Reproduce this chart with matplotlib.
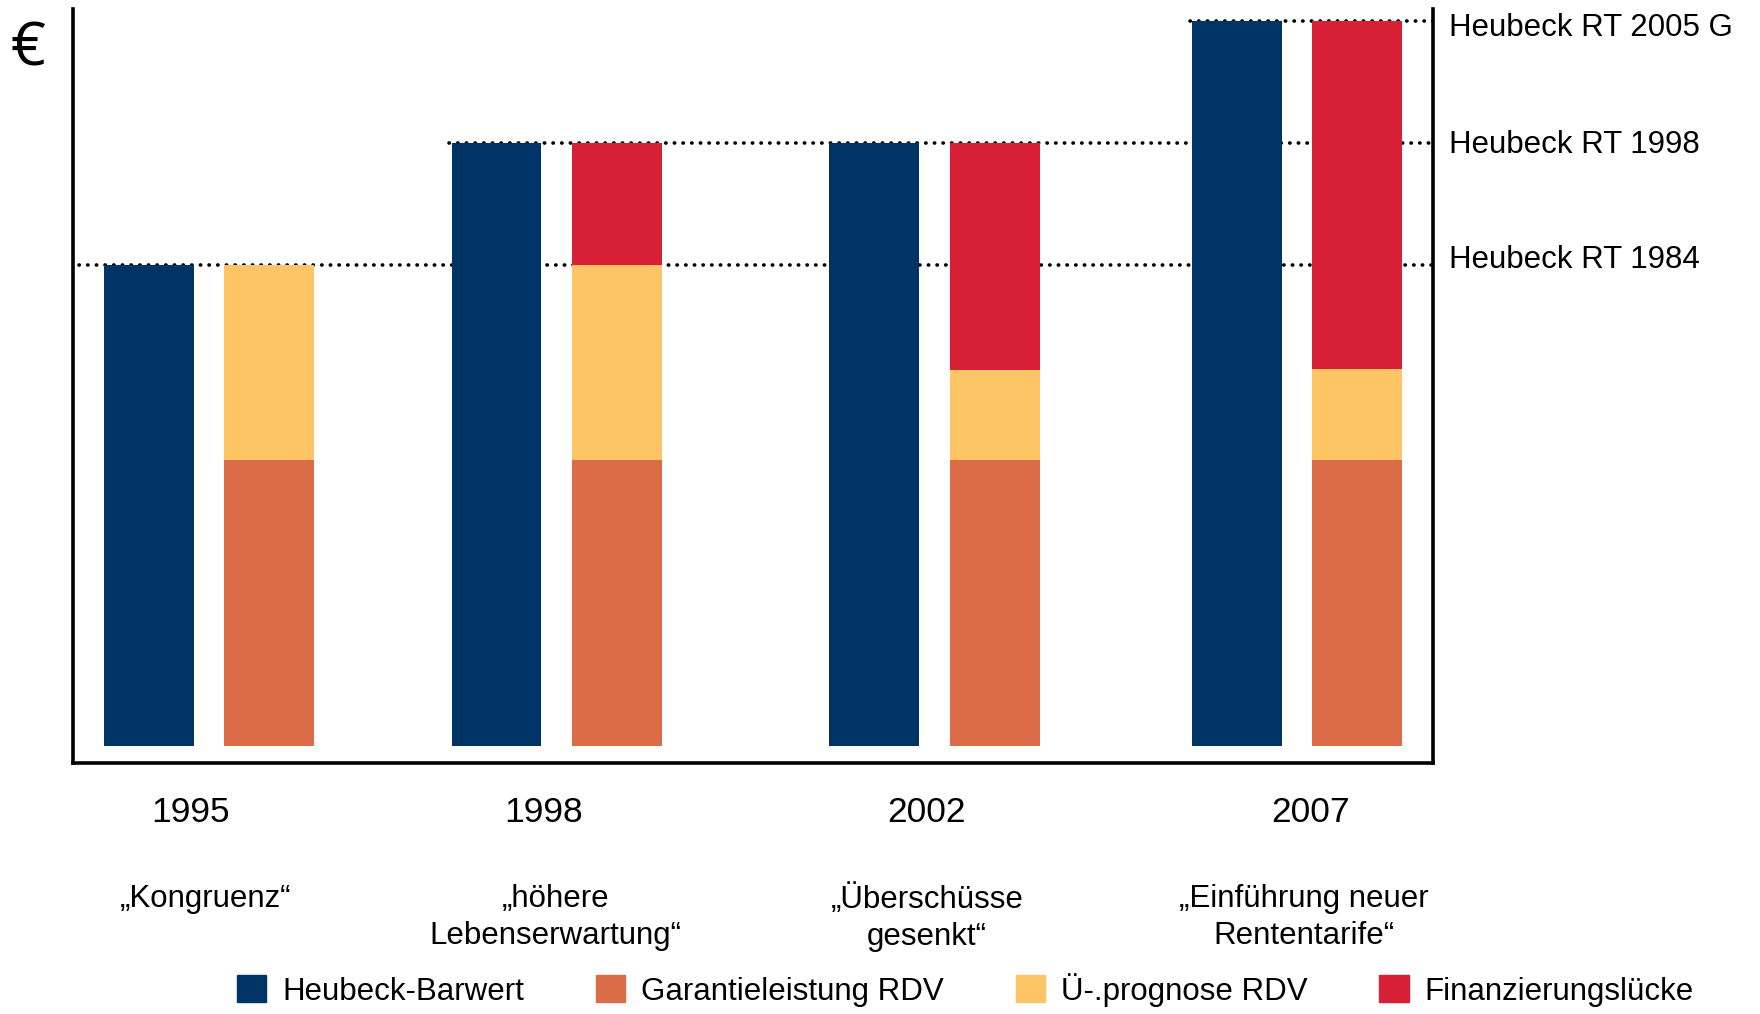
import matplotlib
matplotlib.use('Agg')
import matplotlib.pyplot as plt
from matplotlib.patches import Patch

plt.rcParams['font.family'] = ['Liberation Sans', 'DejaVu Sans']

#daten
jahre = ['1995', '1998', '2002', '2007']
beschreibung = ['„Kongruenz“', '„höhere\nLebenserwartung“',
                '„Überschüsse\ngesenkt“', '„Einführung neuer\nRententarife“']
heubeck_barwert = [4.29, 5.38, 5.38, 6.46]
garantie_rdv = [2.55, 2.55, 2.55, 2.55]
ue_prognose_rdv = [1.74, 1.74, 0.80, 0.81]
finanz_luecke = [0.00, 1.09, 2.03, 3.10]
rt_namen = ['Heubeck RT 1984', 'Heubeck RT 1998', 'Heubeck RT 2005 G']
rt_werte = [4.29, 5.38, 6.46]

#layout (x in pixel-aehnlichen einheiten)
pos_blau = [67.5, 377.5, 714, 1037]
versatz = 107.5
breite = 80
rt_start = [5, 335, 995]
rt_label_y = [4.33, 5.36, 6.40]
jahr_x = [105, 419, 761, 1103]
text_x = [118, 430, 761, 1097]
x_max = 1212

c_blau = '#003466'
c_orange = '#DC6C47'
c_gelb = '#FEC567'
c_rot = '#D72036'

fig = plt.figure(figsize=(17.6, 10.14), dpi=100)
ax = fig.add_axes([73/1760, 1-763/1014, (1433-73)/1760, (763-9)/1014])
ax.set_xlim(0, x_max)
ax.set_ylim(-0.15, 6.57)

pos_stack = [p + versatz for p in pos_blau]
unten2 = [g + u for g, u in zip(garantie_rdv, ue_prognose_rdv)]
ax.bar(pos_blau, heubeck_barwert, width=breite, color=c_blau, zorder=2)
ax.bar(pos_stack, garantie_rdv, width=breite, color=c_orange, zorder=2)
ax.bar(pos_stack, ue_prognose_rdv, width=breite, bottom=garantie_rdv, color=c_gelb, zorder=2)
ax.bar(pos_stack, finanz_luecke, width=breite, bottom=unten2, color=c_rot, zorder=2)

for name, wert, x0, ly in zip(rt_namen, rt_werte, rt_start, rt_label_y):
    ax.plot([x0, x_max], [wert, wert], color='black', lw=2.6,
            linestyle=(0, (0.1, 2.3)), dash_capstyle='round', zorder=1)
    ax.text(x_max + 14, ly, name, fontsize=22.5, ha='left', va='center')

for x, j in zip(jahr_x, jahre):
    ax.text(x, -0.59, j, fontsize=25.5, ha='center', va='center', clip_on=False)
for x, t in zip(text_x, beschreibung):
    ax.text(x, -1.23, t, fontsize=22.5, ha='center', va='top', clip_on=False,
            linespacing=1.3)

ax.set_xticks([])
ax.set_yticks([])
ax.spines['top'].set_visible(False)
for s in ['left', 'bottom', 'right']:
    ax.spines[s].set_linewidth(2.6)

fig.text(28/1760, 1-49/1014, '€', fontsize=44, ha='center', va='center',
         family=['Open Sans', 'DejaVu Sans'])

handles = [Patch(color=c_blau, label='Heubeck-Barwert'),
           Patch(color=c_orange, label='Garantieleistung RDV'),
           Patch(color=c_gelb, label='Ü-.prognose RDV'),
           Patch(color=c_rot, label='Finanzierungslücke')]
fig.legend(handles=handles, loc='center', bbox_to_anchor=(0.5485, 0.024), ncol=4,
           frameon=False, fontsize=22.5, handlelength=0.95, handleheight=0.95,
           handletextpad=0.5, columnspacing=2.3, borderpad=0)

plt.savefig('out.png', dpi=100)
